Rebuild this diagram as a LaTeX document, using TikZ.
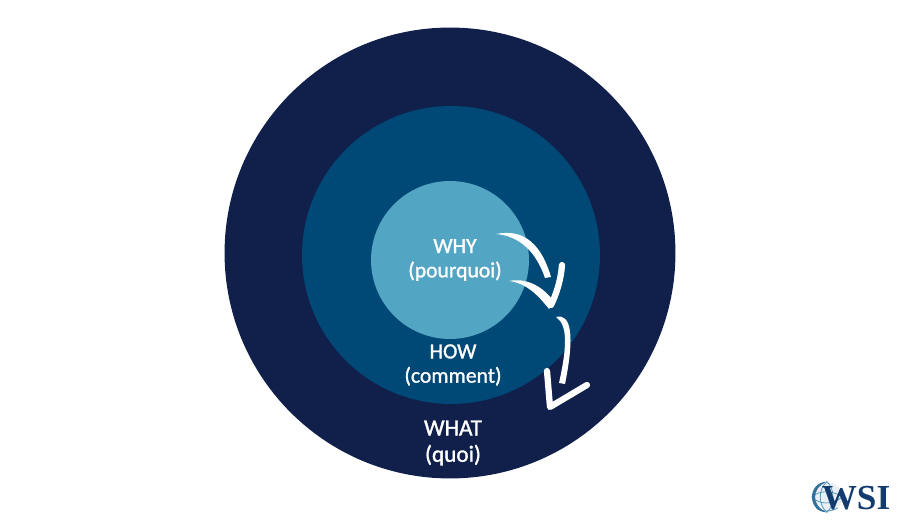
\documentclass[tikz,border=0pt]{standalone}
\usepackage{fontspec}
\setmainfont[FakeBold=1.3]{Carlito}
\newfontfamily\logofont{Liberation Serif}
\usepackage{tikz}
\definecolor{whatblue}{HTML}{10204B}
\definecolor{howblue}{HTML}{004976}
\definecolor{whyblue}{HTML}{52A5C3}
\definecolor{logoblue}{HTML}{123C6E}
\definecolor{globeblue}{HTML}{3F86AE}
\begin{document}
\begin{tikzpicture}[
                    x=0.02cm,
                    y=-0.02cm,
                    ring/.style={circle, inner sep=0pt},
                    label/.style={text=white, align=center, font=\fontsize{12.3}{13.8}\selectfont},
                    stroke/.style={draw=white, line width=0.125cm, line cap=round, line join=round},
                    grid/.style={draw=globeblue, line width=0.35pt}
                ]
                    \useasboundingbox (0,0) rectangle (900,526);

                    % Circles
                    \node[ring, fill=whatblue, minimum size=9.02cm] (what) at (450,253) {};
                    \node[ring, fill=howblue, minimum size=5.96cm] (how) at (451,255) {};
                    \node[ring, fill=whyblue, minimum size=3.16cm] (why) at (450,260) {};

                    % Labels
                    \node[label] (whytext) at (455,260) {WHY\\(pourquoi)};
                    \node[label] (howtext) at (453,365) {HOW\\(comment)};
                    \node[label, font=\fontsize{13.2}{15}\selectfont] (whattext) at (453,443) {WHAT\\(quoi)};

                    % Arrow points
                    \coordinate (a) at (496,234);
                    \coordinate (c) at (562,265);
                    \coordinate (d) at (551,305);
                    \coordinate (e) at (509,281);
                    \coordinate (f) at (556,317);
                    \coordinate (h) at (547,371);
                    \coordinate (i) at (550,407);
                    \coordinate (j) at (587,385);

                    % Arrows
                    \fill[white] (a) .. controls (525,228) and (542,246) .. (551,277) -- (545,278) .. controls (536,252) and (520,236) .. (a);
                    \draw[stroke] (c) .. controls (561,280) and (556,295) .. (d);
                    \fill[white] (e) .. controls (530,277) and (546,290) .. (555,303) -- (549,309) .. controls (538,295) and (526,283) .. (e);
                    \fill[white] (f) .. controls (571,313) and (575,335) .. (565,384) -- (559,383) .. controls (567,347) and (568,325) .. (f);
                    \draw[stroke] (h) -- (i) -- (j);

                    % Logo
                    \node[circle, inner sep=0pt, minimum size=0.6cm, fill=globeblue!12] (globe) at (827,497) {};
                    \draw[grid] (globe.north) .. controls (818,489) and (818,505) .. (globe.south);
                    \draw[grid] (globe.north) .. controls (835,489) and (835,505) .. (globe.south);
                    \draw[grid] (globe.west) .. controls (820,505) and (832,505) .. (globe.east);
                    \draw[grid] (globe.west) .. controls (820,490) and (832,490) .. (globe.east);
                    \draw[grid] (globe.south west) .. controls (820,512) and (832,512) .. (globe.south east);
                    \fill[globeblue!70!logoblue] (globe.north) .. controls (807,482) and (807,512) .. (globe.south) .. controls (811,506) and (811,488) .. (globe.north);
                    \node[inner sep=0pt, text=logoblue, font=\logofont\fontsize{20}{20}\selectfont\bfseries] (wsi) at (856,498) {WSI};
                \end{tikzpicture}
\end{document}
